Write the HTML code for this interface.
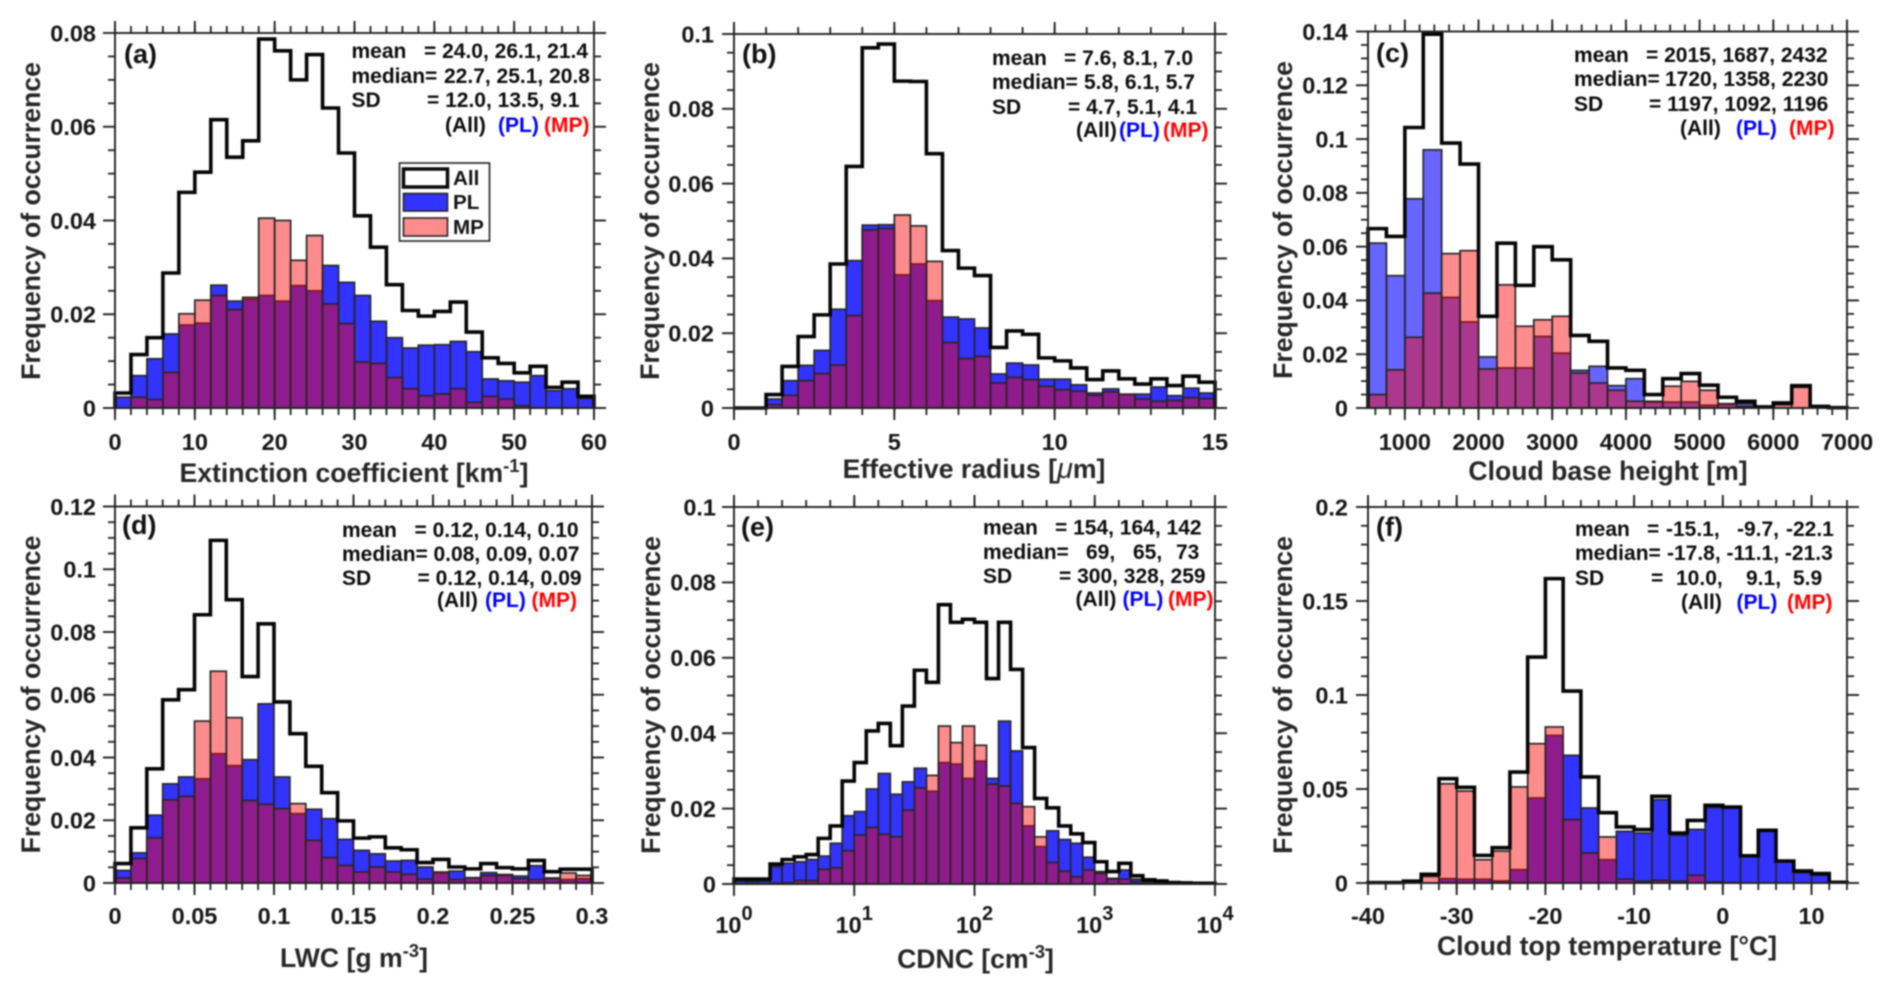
<!DOCTYPE html>
<html lang="en">
<head>
<meta charset="utf-8">
<title>Cloud microphysics histograms</title>
<style>
html,body{margin:0;padding:0;background:#fff;}
svg{display:block;filter:blur(0.7px);}
text{font-family:"Liberation Sans",Arial,sans-serif;font-weight:bold;fill:#161616;white-space:pre;}
.stat{font-size:21px;fill:#0c0c0c;}
.axt{font-size:26.6px;fill:#262626;}
.pl{font-size:27px;fill:#111;}
.blue{fill:#0000ff;}
.red{fill:#ff0000;}
.leg{font-size:20.6px;fill:#111;}
</style>
</head>
<body>
<svg id="fig" xmlns="http://www.w3.org/2000/svg" width="1892" height="994" viewBox="0 0 1892 994">
  <rect x="0" y="0" width="1892" height="994" fill="#fff"/>
  <g id="panel-a"></g>
  <g id="panel-b"></g>
  <g id="panel-c"></g>
  <g id="panel-d"></g>
  <g id="panel-e"></g>
  <g id="panel-f"></g>

  <g>
    <text class="axt" text-anchor="middle" transform="translate(40 221) rotate(-90)">Frequency of occurrence</text>
    <text class="axt" text-anchor="middle" transform="translate(659 221) rotate(-90)">Frequency of occurrence</text>
    <text class="axt" text-anchor="middle" transform="translate(1292 220) rotate(-90)">Frequency of occurrence</text>
    <text class="axt" text-anchor="middle" transform="translate(40 694.5) rotate(-90)">Frequency of occurrence</text>
    <text class="axt" text-anchor="middle" transform="translate(660 695) rotate(-90)">Frequency of occurrence</text>
    <text class="axt" text-anchor="middle" transform="translate(1292 695) rotate(-90)">Frequency of occurrence</text>
  </g>

  <g>
    <text class="axt" x="354" y="482" text-anchor="middle">Extinction coefficient [km<tspan font-size="18.5" dy="-10">-1</tspan><tspan dy="10">]</tspan></text>
    <text class="axt" x="974" y="478" text-anchor="middle">Effective radius [<tspan font-style="italic" font-weight="normal" font-size="29">μ</tspan>m]</text>
    <text class="axt" x="1608" y="480" text-anchor="middle">Cloud base height [m]</text>
    <text class="axt" x="354" y="967" text-anchor="middle">LWC [g m<tspan font-size="18.5" dy="-10">-3</tspan><tspan dy="10">]</tspan></text>
    <text class="axt" x="975.5" y="968" text-anchor="middle">CDNC [cm<tspan font-size="18.5" dy="-10">-3</tspan><tspan dy="10">]</tspan></text>
    <text class="axt" x="1607" y="955" text-anchor="middle">Cloud top temperature [°C]</text>
  </g>

  <g>
    <text class="pl" x="124" y="63">(a)</text>
    <text class="pl" x="742" y="63">(b)</text>
    <text class="pl" x="1376" y="62">(c)</text>
    <text class="pl" x="122" y="534">(d)</text>
    <text class="pl" x="741" y="536">(e)</text>
    <text class="pl" x="1376" y="536">(f)</text>
  </g>

  <g>
    <text class="stat" x="351.5" y="58">mean</text>
    <text class="stat" x="424" y="58">= 24.0, 26.1, 21.4</text>
    <text class="stat" x="351.5" y="83">median=</text>
    <text class="stat" x="444" y="83">22.7, 25.1, 20.8</text>
    <text class="stat" x="351.5" y="107">SD</text>
    <text class="stat" x="427" y="107">= 12.0, 13.5, 9.1</text>
    <text class="stat" x="445" y="132">(All)</text>
    <text class="stat blue" x="498" y="132">(PL)</text>
    <text class="stat red" x="544" y="132">(MP)</text>
  </g>
  <g>
    <text class="stat" x="992" y="65">mean</text>
    <text class="stat" x="1064" y="65">= 7.6, 8.1, 7.0</text>
    <text class="stat" x="992" y="89">median=</text>
    <text class="stat" x="1084" y="89">5.8, 6.1, 5.7</text>
    <text class="stat" x="992" y="114">SD</text>
    <text class="stat" x="1068" y="114">= 4.7, 5.1, 4.1</text>
    <text class="stat" x="1076" y="137">(All)</text>
    <text class="stat blue" x="1119" y="137">(PL)</text>
    <text class="stat red" x="1163" y="137">(MP)</text>
  </g>
  <g>
    <text class="stat" x="1574" y="62">mean</text>
    <text class="stat" x="1646" y="62">= 2015, 1687, 2432</text>
    <text class="stat" x="1574" y="86">median=</text>
    <text class="stat" x="1665" y="86">1720, 1358, 2230</text>
    <text class="stat" x="1574" y="111">SD</text>
    <text class="stat" x="1649" y="111">= 1197, 1092, 1196</text>
    <text class="stat" x="1680" y="135">(All)</text>
    <text class="stat blue" x="1736" y="135">(PL)</text>
    <text class="stat red" x="1789" y="135">(MP)</text>
  </g>
  <g>
    <text class="stat" x="342" y="537">mean</text>
    <text class="stat" x="414.5" y="537">= 0.12, 0.14, 0.10</text>
    <text class="stat" x="342" y="561">median=</text>
    <text class="stat" x="433.5" y="561">0.08, 0.09, 0.07</text>
    <text class="stat" x="342" y="585">SD</text>
    <text class="stat" x="417.5" y="585">= 0.12, 0.14, 0.09</text>
    <text class="stat" x="437" y="607">(All)</text>
    <text class="stat blue" x="485" y="607">(PL)</text>
    <text class="stat red" x="531.5" y="607">(MP)</text>
  </g>
  <g>
    <text class="stat" x="983" y="534.5">mean</text>
    <text class="stat" x="1055" y="534.5">= 154, 164, 142</text>
    <text class="stat" x="983" y="559">median=</text>
    <text class="stat" x="1086" y="559">69,</text>
    <text class="stat" x="1133" y="559">65,</text>
    <text class="stat" x="1176" y="559">73</text>
    <text class="stat" x="983" y="583">SD</text>
    <text class="stat" x="1059" y="583">= 300, 328, 259</text>
    <text class="stat" x="1075.5" y="606">(All)</text>
    <text class="stat blue" x="1122.5" y="606">(PL)</text>
    <text class="stat red" x="1168" y="606">(MP)</text>
  </g>
  <g>
    <text class="stat" x="1575" y="536">mean</text>
    <text class="stat" x="1647" y="536">=</text>
    <text class="stat" x="1666" y="536">-15.1,</text>
    <text class="stat" x="1737" y="536">-9.7,</text>
    <text class="stat" x="1786" y="536">-22.1</text>
    <text class="stat" x="1575" y="560">median=</text>
    <text class="stat" x="1667" y="560">-17.8, -11.1, -21.3</text>
    <text class="stat" x="1575" y="585">SD</text>
    <text class="stat" x="1651" y="585">=</text>
    <text class="stat" x="1676" y="585">10.0,</text>
    <text class="stat" x="1746" y="585">9.1,</text>
    <text class="stat" x="1793" y="585">5.9</text>
    <text class="stat" x="1681" y="609">(All)</text>
    <text class="stat blue" x="1736.5" y="609">(PL)</text>
    <text class="stat red" x="1787" y="609">(MP)</text>
  </g>

  <g>
    <rect x="399.5" y="163" width="90" height="78" fill="#fff" stroke="#222" stroke-width="1.6"/>
    <rect x="403.5" y="169" width="44" height="18" fill="#fff" stroke="#0a0a0a" stroke-width="3.5"/>
    <text class="leg" x="453" y="185">All</text>
    <rect x="403.5" y="193.5" width="44" height="17.5" fill="#3333ff" stroke="#222" stroke-width="1.6"/>
    <text class="leg" x="453" y="209">PL</text>
    <rect x="403.5" y="218" width="44" height="18" fill="#ff8c8c" stroke="#222" stroke-width="1.6"/>
    <text class="leg" x="453" y="234">MP</text>
  </g>
</svg>

<script>
// ---- Panel (a) extinction coefficient ----
const extAll = [.0032,.0114,.015,.0288,.046,.0503,.0615,.0535,.057,.0787,.0762,.07,.0754,.064,.0544,.041,.0343,.0263,.0208,.0196,.0206,.0226,.0162,.0107,.0095,.0075,.0089,.0044,.0055,.0025];
const extPL = [.0023,.0069,.0105,.0158,.0177,.0181,.0262,.0228,.0232,.024,.0228,.0261,.025,.0304,.0268,.024,.0185,.015,.0128,.0134,.0135,.0142,.012,.0062,.0058,.0055,.0069,.0037,.0041,.002];
const extMP = [0,.0023,.0018,.0076,.0201,.023,.024,.021,.0236,.0405,.04,.0315,.0368,.0222,.018,.0098,.0095,.0065,.0041,.0026,.003,.0041,.0012,.0025,.0019,.0005,0,0,0,0];
const extXTicks = [0,10,20,30,40,50,60];
const extYTicks = [0,0.02,0.04,0.06,0.08];

// ---- Panel (b) effective radius ----
const reffAll = [0,0,.0036,.0111,.0191,.0249,.0385,.0646,.0963,.0973,.0874,.0873,.068,.0421,.0374,.0354,.0162,.0206,.0197,.0134,.0126,.0107,.0076,.0099,.0078,.0064,.0078,.006,.0085,.0069];
const reffPL = [0,0,.0024,.0073,.0114,.0154,.0264,.0394,.0489,.049,.0356,.0385,.0287,.0243,.0238,.0214,.0091,.012,.0115,.0077,.0077,.0062,.004,.0051,.0036,.0037,.0056,.0033,.0053,.004];
const reffMP = [0,0,.0009,.0034,.0073,.0092,.0115,.0247,.0476,.048,.0516,.0487,.0392,.0175,.0132,.0138,.0067,.0082,.0076,.0058,.0049,.0045,.0034,.0043,.0037,.0024,.0018,.002,.0028,.0025];
const reffXTicks = [0,5,10,15];
const reffYTicks = [0,0.02,0.04,0.06,0.08,0.1];

// ---- Panel (c) cloud base height ----
const cbhAll = [.0667,.0638,.1043,.139,.0985,.0907,.0341,.0613,.0456,.06,.0551,.027,.0248,.0149,.014,.005,.0109,.0128,.0085,.004,.0025,.0004,.0019,.0083,.0006,.0001];
const cbhPL = [.0613,.0492,.0778,.096,.0411,.032,.019,.0149,.0149,.0266,.0204,.014,.0155,.0083,.0109,.0022,.0022,.0022,.001,.0013,.0016,.0003,0,0,0,0];
const cbhMP = [.005,.0142,.0263,.0427,.0574,.0585,.0145,.0458,.0304,.0328,.0341,.013,.0093,.0066,.0025,.0025,.0081,.0099,.0066,.0016,.0006,.0003,.0012,.0077,.0006,0];
const cbhXTicks = [1000,2000,3000,4000,5000,6000,7000];
const cbhYTicks = [0,0.02,0.04,0.06,0.08,0.1,0.12,0.14];

// ---- Panel (d) liquid water content ----
const lwcAll = [.0062,.0176,.0364,.0584,.0616,.0855,.1092,.0903,.0658,.0826,.0577,.0476,.0372,.0288,.0198,.0143,.0147,.0112,.0106,.0065,.0075,.0051,.0045,.0062,.0049,.0045,.0072,.0036,.0044,.0044];
const lwcPL = [.004,.0096,.0216,.0316,.0338,.0332,.0412,.0374,.0393,.0571,.0338,.0221,.0235,.0205,.0139,.0104,.0093,.007,.0072,.0051,.0032,.0038,.0017,.0033,.0027,.0022,.0055,.0016,.0011,.0014];
const lwcMP = [.0016,.0078,.0144,.0265,.0276,.0516,.0675,.0527,.0263,.0251,.0237,.0253,.0136,.0081,.0056,.0035,.0051,.0035,.0028,.0012,.0035,.0011,.0016,.0024,.0024,.0014,.0011,.0014,.0032,.0024];
const lwcXTicks = [0,0.05,0.1,0.15,0.2,0.25,0.3];
const lwcYTicks = [0,0.02,0.04,0.06,0.08,0.1,0.12];

// ---- Panel (e) droplet number concentration (log x) ----
const cdncAll = [.0013,.0013,.0013,.0053,.0065,.0072,.0078,.0121,.0154,.0273,.0322,.0406,.0426,.0367,.0472,.0567,.0535,.0741,.0694,.0702,.0694,.0545,.0694,.0569,.0362,.0227,.0202,.0154,.0133,.011,.0059,.0033,.0055,.0022,.0011,.0008,.0004,.0003,.0002,.0002];
const cdncPL = [.0008,.0007,.0008,.0046,.0055,.0059,.0065,.0074,.0108,.0181,.0192,.0252,.0293,.0238,.0271,.0307,.0246,.0322,.0318,.028,.0326,.028,.0432,.0353,.0154,.0099,.0141,.0118,.0108,.0071,.0033,.0015,.0037,.0013,.0006,.0004,.0002,.0002,.0001,.0001];
const cdncMP = [.0001,.0001,.0001,.0002,.0003,.0009,.0009,.0039,.0043,.0088,.013,.015,.0132,.0125,.0196,.0255,.0288,.0419,.0375,.0419,.0368,.0265,.026,.0214,.0205,.0125,.0057,.0034,.0019,.0037,.0028,.0013,.0013,.0006,.0004,.0004,.0004,.0002,.0001,.0001];
const cdncXExponents = [0,1,2,3,4];
const cdncYTicks = [0,0.02,0.04,0.06,0.08,0.1];

// ---- Panel (f) cloud top temperature ----
const cttAll = [.0002,.0002,.001,.0046,.0555,.0509,.0147,.0188,.059,.1202,.1619,.1021,.0564,.0374,.0298,.0284,.0461,.0266,.0333,.0413,.0404,.0145,.028,.0117,.0064,.005,.0004];
const cttPL = [0,0,0,0,.0023,.002,.002,.0011,.0071,.0452,.0785,.0679,.0399,.0124,.0275,.0266,.0443,.0254,.0285,.0401,.04,.0142,.0275,.0112,.0055,.0041,0];
const cttMP = [0,0,.0008,.0035,.0528,.0489,.0124,.017,.0511,.0741,.083,.0337,.016,.0245,.002,.0009,.0014,.0009,.0041,.0005,.0002,0,0,0,0,0,0];
const cttXTicks = [-40,-30,-20,-10,0,10];
const cttYTicks = [0,0.05,0.1,0.15,0.2];

const SVGNS = 'http://www.w3.org/2000/svg';
const MAJOR = 12, MINOR = 7;

function node(parent, tag, attrs) {
  const el = document.createElementNS(SVGNS, tag);
  for (const k in attrs) el.setAttribute(k, attrs[k]);
  parent.appendChild(el);
  return el;
}

function seq(lo, hi, step) {
  const out = [];
  const n = Math.round((hi - lo) / step);
  for (let i = 0; i <= n; i++) out.push(+(lo + i * step).toFixed(6));
  return out;
}

function drawPanel(p) {
  const g = document.getElementById(p.id);
  const logX = p.log === true;
  const xFrac = v => logX
    ? (Math.log10(v) - Math.log10(p.xMin)) / (Math.log10(p.xMax) - Math.log10(p.xMin))
    : (v - p.xMin) / (p.xMax - p.xMin);
  const xPos = v => p.L + xFrac(v) * (p.R - p.L);
  const yPos = v => p.B - (v - 0) / (p.yMax - 0) * (p.B - p.T);
  const edge = i => logX ? Math.pow(10, Math.log10(p.xMin) + i * p.binWidth) : p.xMin + i * p.binWidth;

  // histogram bars: PL first, MP on top so the overlap mixes to purple
  p.pl.forEach((v, i) => {
    const r = node(g, 'rect', {x: xPos(edge(i)), y: yPos(v), width: xPos(edge(i + 1)) - xPos(edge(i)), height: yPos(0) - yPos(v), fill: 'rgba(0,0,255,' + p.plAlpha + ')', stroke: '#262626', 'stroke-width': 1.7});
    
    
  });
  p.mp.forEach((v, i) => {
    const r = node(g, 'rect', {x: xPos(edge(i)), y: yPos(v), width: xPos(edge(i + 1)) - xPos(edge(i)), height: yPos(0) - yPos(v), fill: 'rgba(255,0,0,0.45)', stroke: '#262626', 'stroke-width': 1.7});
    
    
  });

  // outline of the "All" distribution
  let d = 'M' + xPos(edge(0)) + ' ' + yPos(0);
  p.all.forEach((v, i) => {
    d += 'L' + xPos(edge(i)) + ' ' + yPos(v) + 'L' + xPos(edge(i + 1)) + ' ' + yPos(v);
  });
  d += 'L' + xPos(edge(p.all.length)) + ' ' + yPos(0);
  const outline = node(g, 'path', {d: d, fill: 'none', stroke: '#050505', 'stroke-width': 3.6, 'stroke-linejoin': 'miter'});
  
  

  // axes box
  const box = node(g, 'rect', {x: p.L, y: p.T, width: p.R - p.L, height: p.B - p.T, fill: 'none', stroke: '#222', 'stroke-width': 1.9});
  
  

  // x ticks, bottom and top
  p.xMinor.forEach(v => {
    const x = xPos(v);
    const t1 = node(g, 'line', {x1: x, x2: x, y1: p.B, y2: p.B + MINOR, stroke: '#222', 'stroke-width': 1.8});
    
    
  });
  p.xMinorTop.forEach(v => {
    const x = xPos(v);
    const t2 = node(g, 'line', {x1: x, x2: x, y1: p.T, y2: p.T - MINOR, stroke: '#222', 'stroke-width': 1.8});
    
    
  });
  p.xMajor.forEach(v => {
    const x = xPos(v);
    const t1 = node(g, 'line', {x1: x, x2: x, y1: p.B, y2: p.B + MAJOR, stroke: '#222', 'stroke-width': 1.9});
    
    
    const t2 = node(g, 'line', {x1: x, x2: x, y1: p.T, y2: p.T - MAJOR, stroke: '#222', 'stroke-width': 1.9});
    
    
    if (logX) {
      const lab = node(g, 'text', {x: x, y: p.xLabelY, 'text-anchor': 'middle', 'font-size': 23.5});
      
      
      lab.textContent = '10';
      const sup = node(lab, 'tspan', {dy: -13, 'font-size': 20});
      
      
      sup.textContent = String(Math.round(Math.log10(v)));
    } else {
      const lab = node(g, 'text', {x: x, y: p.xLabelY, 'text-anchor': 'middle', 'font-size': 23.5});
      
      
      lab.textContent = String(v);
    }
  });

  // y ticks, left and right
  const isMajorY = v => p.yMajor.some(m => Math.abs(m - v) < 1e-6);
  seq(0, p.yMax, p.yMinorStep).forEach(v => {
    if (isMajorY(v)) return;
    const y = yPos(v);
    const t1 = node(g, 'line', {x1: p.L, x2: p.L - MINOR, y1: y, y2: y, stroke: '#222', 'stroke-width': 1.8});
    
    
    const t2 = node(g, 'line', {x1: p.R, x2: p.R + MINOR, y1: y, y2: y, stroke: '#222', 'stroke-width': 1.8});
    
    
  });
  p.yMajor.forEach(v => {
    const y = yPos(v);
    const t1 = node(g, 'line', {x1: p.L, x2: p.L - MAJOR, y1: y, y2: y, stroke: '#222', 'stroke-width': 1.9});
    
    
    const t2 = node(g, 'line', {x1: p.R, x2: p.R + MAJOR, y1: y, y2: y, stroke: '#222', 'stroke-width': 1.9});
    
    
    const lab = node(g, 'text', {x: p.yLabelX, y: y + 8.3, 'text-anchor': 'end', 'font-size': 23.5});
    
    
    lab.textContent = String(v);
  });
}

function logEven(minExp, maxExp, stepExp) {
  return seq(minExp, maxExp, stepExp).map(e => Math.pow(10, e));
}

drawPanel({id:'panel-a', L:115, R:594, T:33, B:408, xMin:0, xMax:60, binWidth:2, yMax:0.08, yMinorStep:0.005, plAlpha:0.8,
  all:extAll, pl:extPL, mp:extMP, xMajor:extXTicks, xMinor:seq(0,60,2), xMinorTop:seq(0,60,2), yMajor:extYTicks, xLabelY:450, yLabelX:96});
drawPanel({id:'panel-b', L:734, R:1215, T:34, B:408, xMin:0, xMax:15, binWidth:0.5, yMax:0.1, yMinorStep:0.005, plAlpha:0.8,
  all:reffAll, pl:reffPL, mp:reffMP, xMajor:reffXTicks, xMinor:seq(0,15,1), xMinorTop:seq(0,15,1), yMajor:reffYTicks, xLabelY:450, yLabelX:714});
drawPanel({id:'panel-c', L:1368, R:1847, T:31.5, B:408, xMin:500, xMax:7000, binWidth:250, yMax:0.14, yMinorStep:0.005, plAlpha:0.6,
  all:cbhAll, pl:cbhPL, mp:cbhMP, xMajor:cbhXTicks, xMinor:seq(600,7000,200), xMinorTop:seq(600,7000,200), yMajor:cbhYTicks, xLabelY:450, yLabelX:1348});
drawPanel({id:'panel-d', L:115, R:592, T:506.5, B:883, xMin:0, xMax:0.3, binWidth:0.01, yMax:0.12, yMinorStep:0.005, plAlpha:0.8,
  all:lwcAll, pl:lwcPL, mp:lwcMP, xMajor:lwcXTicks, xMinor:seq(0,0.3,0.01), xMinorTop:seq(0,0.3,0.01), yMajor:lwcYTicks, xLabelY:924, yLabelX:96});
drawPanel({id:'panel-e', L:734, R:1215, T:507, B:884, xMin:1, xMax:10000, log:true, binWidth:0.1, yMax:0.1, yMinorStep:0.005, plAlpha:0.8,
  all:cdncAll, pl:cdncPL, mp:cdncMP, xMajor:cdncXExponents.map(e => Math.pow(10, e)), xMinor:[], xMinorTop:logEven(0,4,0.2), yMajor:cdncYTicks, xLabelY:933, yLabelX:716});
drawPanel({id:'panel-f', L:1368, R:1847, T:507, B:883, xMin:-40, xMax:14, binWidth:2, yMax:0.2, yMinorStep:0.01, plAlpha:0.8,
  all:cttAll, pl:cttPL, mp:cttMP, xMajor:cttXTicks, xMinor:seq(-40,14,2), xMinorTop:seq(-40,14,2), yMajor:cttYTicks, xLabelY:924, yLabelX:1348});
</script>
</body>
</html>
